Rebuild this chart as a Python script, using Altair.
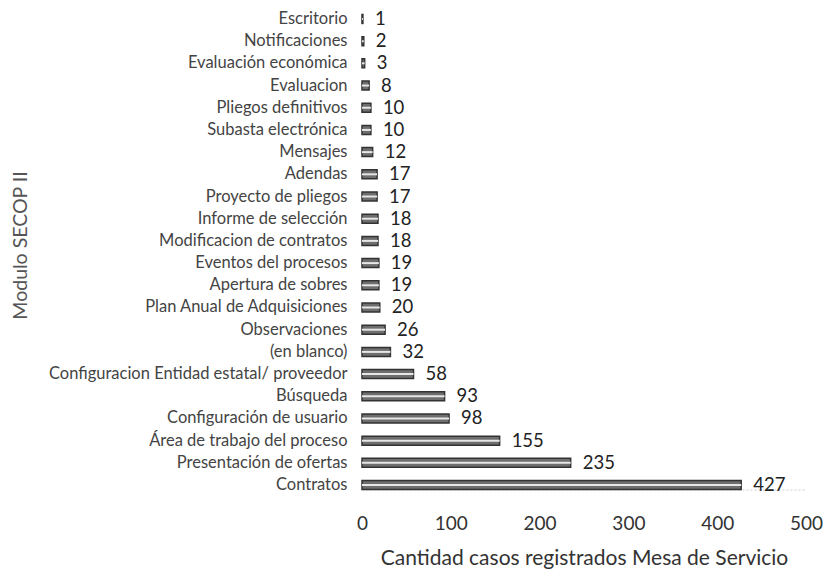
import altair as alt
import pandas as pd

categories = [
    "Escritorio", "Notificaciones", "Evaluación económica", "Evaluacion",
    "Pliegos definitivos", "Subasta electrónica", "Mensajes", "Adendas",
    "Proyecto de pliegos", "Informe de selección", "Modificacion de contratos",
    "Eventos del procesos", "Apertura de sobres", "Plan Anual de Adquisiciones",
    "Observaciones", "(en blanco)", "Configuracion Entidad estatal/ proveedor",
    "Búsqueda", "Configuración de usuario", "Área de trabajo del proceso",
    "Presentación de ofertas", "Contratos",
]
values = [1, 2, 3, 8, 10, 10, 12, 17, 17, 18, 18, 19, 19, 20, 26, 32, 58, 93, 98, 155, 235, 427]
x_ticks = [0, 100, 200, 300, 400, 500]

df = pd.DataFrame({"modulo": categories, "casos": values})

FONT = "Lato"

y_enc = alt.Y(
    "modulo:N", sort=categories,
    scale=alt.Scale(paddingInner=0.6, paddingOuter=0),
    axis=alt.Axis(
        title="Modulo SECOP II", domain=False, ticks=False, labelPadding=15,
        labelLimit=500, labelFont=FONT, labelFontSize=16.5, labelColor="#444",
        titleFont=FONT, titleFontSize=19.5, titleFontWeight="normal", titleColor="#555",
        titleAngle=270, titleAlign="center", titleBaseline="middle",
        titleX=-342, titleY=230.5,
    ),
)
x_enc = alt.X(
    "casos:Q", scale=alt.Scale(domain=[0, 500], nice=False),
    axis=alt.Axis(
        title="Cantidad casos registrados Mesa de Servicio", values=x_ticks,
        grid=False, ticks=False, domain=True, domainColor="#cccccc", domainDash=[2, 2],
        labelFlush=False, labelOverlap=False,
        labelPadding=25, labelFont=FONT, labelFontSize=19, labelColor="#333",
        titleFont=FONT, titleFontSize=21, titleFontWeight="normal", titleColor="#333",
        titleBaseline="middle", titleY=69,
    ),
)

base = alt.Chart(df).encode(y=y_enc, x=x_enc)

bars = base.mark_bar(size=9, fill="#6e6e6e", stroke="#333333", strokeWidth=1.5)
inner = base.mark_bar(size=2, fill="#e6e6e6")
labels = base.mark_text(align="left", baseline="middle", dx=12, font=FONT,
                        fontSize=18.5, color="#222").encode(text="casos:Q")

chart = (bars + inner + labels).properties(
    width=444, height=475,
    autosize=alt.AutoSizeParams(type="none"),
    padding={"left": 354, "top": 6.5, "right": 18, "bottom": 84},
).configure_view(stroke=None)

chart.save("out.html", embed_options={"renderer": "svg", "actions": False})
